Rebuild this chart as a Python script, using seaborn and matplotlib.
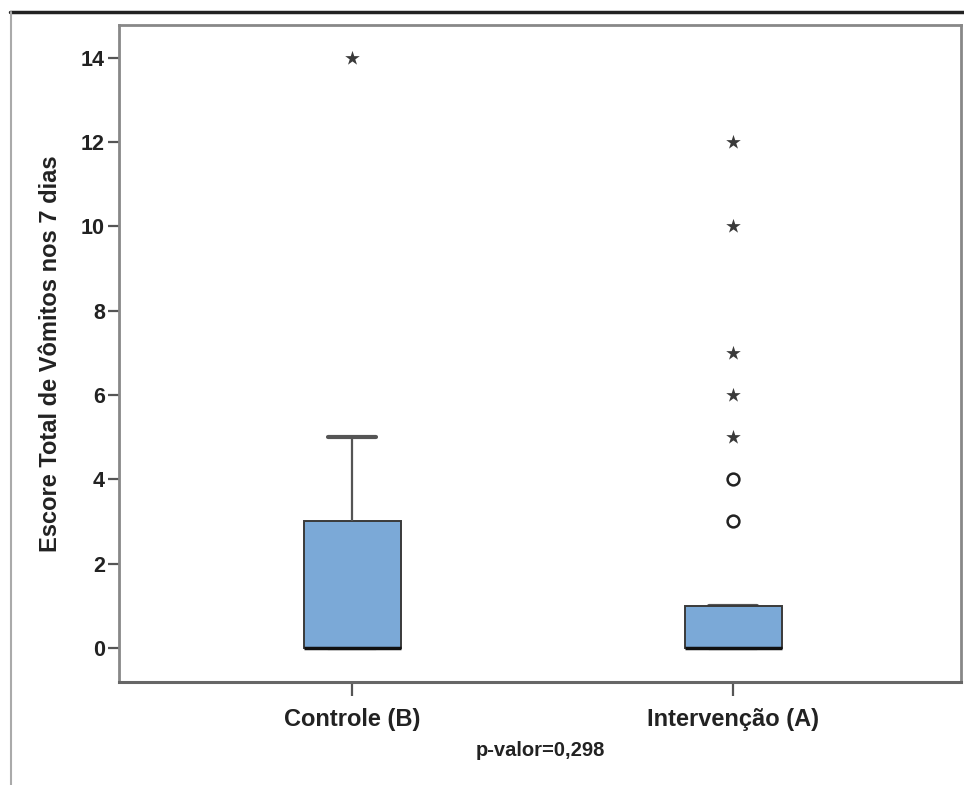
import numpy as np
import pandas as pd
import matplotlib
matplotlib.use("Agg")
import matplotlib.pyplot as plt
from matplotlib.lines import Line2D
import seaborn as sns

grupos = ["Controle (B)", "Intervenção (A)"]
escore_controle = [0, 0, 0, 0, 0, 0, 0, 0, 0, 0, 0, 0,
                   1, 2, 3, 3, 3, 3, 5, 14]
escore_intervencao = [0, 0, 0, 0, 0, 0, 0, 0, 0, 0,
                      0, 0, 0, 0, 0, 0, 0, 0, 0, 0,
                      1, 1, 1, 1, 1, 1, 1, 1,
                      3, 4, 5, 6, 7, 10, 12]
y_ticks = [0, 2, 4, 6, 8, 10, 12, 14]

df = pd.DataFrame({
    "grupo": [grupos[0]] * len(escore_controle) + [grupos[1]] * len(escore_intervencao),
    "escore": escore_controle + escore_intervencao,
})

# Outliers no estilo SPSS: circulo (>1.5 IQR) e estrela (>3 IQR)
def classificar(valores):
    q1, q3 = np.percentile(valores, [25, 75])
    iqr = q3 - q1
    out = []
    for v in valores:
        if v > q3 + 3 * iqr or v < q1 - 3 * iqr:
            out.append("extremo")
        elif v > q3 + 1.5 * iqr or v < q1 - 1.5 * iqr:
            out.append("outlier")
        else:
            out.append("normal")
    return out

df["tipo"] = classificar(escore_controle) + classificar(escore_intervencao)

sns.set_style("white")
plt.rcParams["font.family"] = ["Liberation Sans", "DejaVu Sans"]

fig = plt.figure(figsize=(9.64, 7.85), dpi=100)
ax = fig.add_axes([119 / 964, 1 - 682 / 785, (961 - 119) / 964, (682 - 25) / 785])

sns.boxplot(data=df, x="grupo", y="escore", order=grupos, ax=ax,
            showfliers=False, width=0.255, color="#7BA9D7", saturation=1,
            linecolor="#3a3a3a", linewidth=1.4,
            whiskerprops=dict(color="#555555", linewidth=1.6),
            capprops=dict(color="#555555", linewidth=3, zorder=1.5),
            medianprops=dict(color="#111111", linewidth=2.5))

sns.stripplot(data=df[df["tipo"] == "extremo"], x="grupo", y="escore", order=grupos,
              ax=ax, jitter=False, marker="*", size=11, color="#3a3a3a", linewidth=0)
sns.stripplot(data=df[df["tipo"] == "outlier"], x="grupo", y="escore", order=grupos,
              ax=ax, jitter=False, marker="o", size=8.5, color="white",
              edgecolor="#222222", linewidth=1.8)

ax.set_xlim(-0.612, 1.598)
ax.set_ylim(-0.81, 14.78)
ax.set_yticks(y_ticks)
ax.set_yticklabels([str(t) for t in y_ticks], fontsize=15.5, fontweight="bold", color="#222222")
ax.set_xticks([0, 1])
ax.set_xticklabels(grupos, fontsize=17, fontweight="bold", color="#222222")
ax.tick_params(axis="y", length=8, width=1.6, color="#555555", left=True, pad=2)
ax.tick_params(axis="x", length=10, width=1.6, color="#555555", bottom=True, pad=9)
ax.set_xlabel("p-valor=0,298", fontsize=14.5, fontweight="bold", labelpad=7, color="#222222")
ax.set_ylabel("Escore Total de Vômitos nos 7 dias", fontsize=17, fontweight="bold",
              labelpad=14, color="#222222")

for side in ["top", "left", "right"]:
    ax.spines[side].set_color("#888888")
    ax.spines[side].set_linewidth(2)
ax.spines["bottom"].set_color("#666666")
ax.spines["bottom"].set_linewidth(2.2)

# Bordas da figura original
fig.add_artist(Line2D([10 / 964, 1], [1 - 12 / 785, 1 - 12 / 785], color="#222222", linewidth=2.5))
fig.add_artist(Line2D([11 / 964, 11 / 964], [0, 1 - 12 / 785], color="#aaaaaa", linewidth=1.5))

fig.savefig("out.png", dpi=100)
